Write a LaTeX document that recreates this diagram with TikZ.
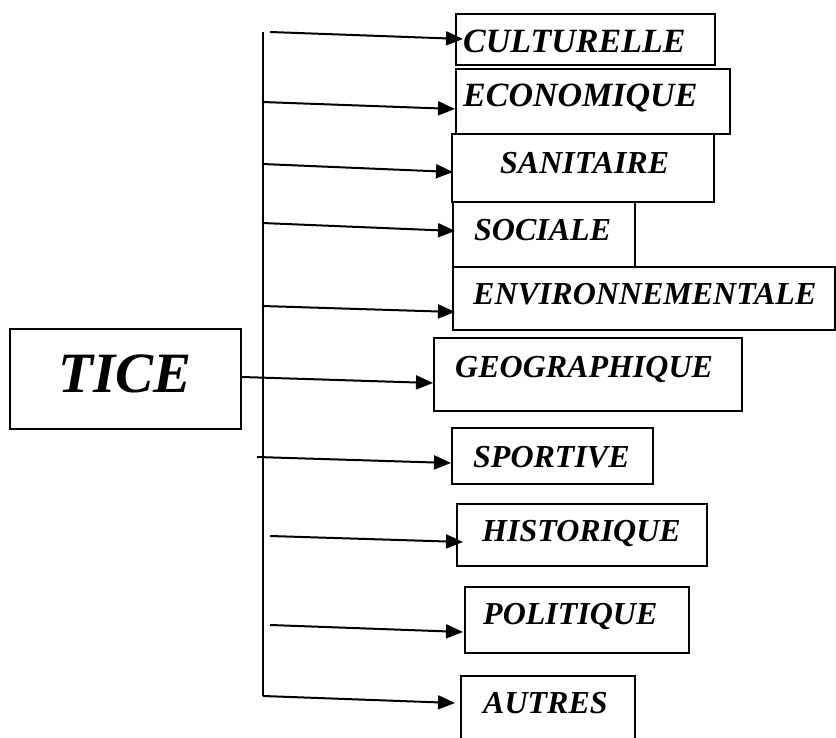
\documentclass[tikz,border=0pt]{standalone}
\usepackage{fontspec}
\setmainfont{Liberation Serif}
\usetikzlibrary{arrows.meta,calc}

\begin{document}
\begin{tikzpicture}[x=1pt,y=-1pt,
    boite/.style={draw=black,line width=1.9pt,anchor=north west,inner sep=0pt},
    etiq/.style={anchor=base west,inner sep=0pt,font=\fontsize{32}{36}\selectfont\bfseries\itshape},
    grand/.style={font=\fontsize{34}{38}\selectfont\bfseries\itshape},
    fleche/.style={draw=black,line width=2pt,-{Triangle[length=17pt,width=14pt]}}]
	\useasboundingbox (0,0) rectangle (836,738);
	\node [boite,minimum width=231pt,minimum height=100pt] (tice) at (9,328) {};
	\node [etiq,font=\fontsize{57}{60}\selectfont\bfseries\itshape] (ttice) at (58,392) {TICE};
	\node [boite,minimum width=259pt,minimum height=51pt] (cult) at (455,13) {};
	\node [etiq,grand] (tcult) at (463,52.5) {CULTURELLE};
	\node [boite,minimum width=274pt,minimum height=65pt] (eco) at (455,68) {};
	\node [etiq,grand] (teco) at (463,107) {ECONOMIQUE};
	\node [boite,minimum width=262pt,minimum height=68pt] (san) at (451,133) {};
	\node [etiq] (tsan) at (500,174) {SANITAIRE};
	\node [boite,minimum width=182pt,minimum height=65pt] (soc) at (452,201) {};
	\node [etiq] (tsoc) at (474,241) {SOCIALE};
	\node [boite,minimum width=382pt,minimum height=63pt] (env) at (452,266) {};
	\node [etiq] (tenv) at (473,305) {ENVIRONNEMENTALE};
	\node [boite,minimum width=308pt,minimum height=73pt] (geo) at (433,337) {};
	\node [etiq] (tgeo) at (455,377.5) {GEOGRAPHIQUE};
	\node [boite,minimum width=201pt,minimum height=56pt] (spo) at (451,427) {};
	\node [etiq] (tspo) at (473,467) {SPORTIVE};
	\node [boite,minimum width=250pt,minimum height=62pt] (his) at (456,503) {};
	\node [etiq] (this) at (482,541) {HISTORIQUE};
	\node [boite,minimum width=224pt,minimum height=66pt] (pol) at (464,586) {};
	\node [etiq] (tpol) at (483,624) {POLITIQUE};
	\node [boite,minimum width=174pt,minimum height=80pt] (aut) at (460,675) {};
	\node [etiq] (taut) at (483,713) {AUTRES};
	\coordinate (haut) at (263,32);
	\coordinate (bas) at (263,696);
	\coordinate (d1) at (270,32);
	\coordinate (d2) at (262,102);
	\coordinate (d3) at (262,164);
	\coordinate (d4) at (262,223);
	\coordinate (d5) at (262,306);
	\coordinate (d7) at (257,457);
	\coordinate (d8) at (270,536);
	\coordinate (d9) at (270,625);
	\draw [black,line width=2pt] (haut) -- (bas);
	\draw [fleche] (d1) -- ($(cult.north west)+(8,26)$);
	\draw [fleche] (d2) -- ($(eco.north west)+(0,41)$);
	\draw [fleche] (d3) -- ($(san.north west)+(2,39)$);
	\draw [fleche] (d4) -- ($(soc.north west)+(3,30)$);
	\draw [fleche] (d5) -- ($(env.north west)+(3,46)$);
	\draw [fleche] ($(tice.north east)+(0,49)$) -- ($(geo.north west)+(0,46)$);
	\draw [fleche] (d7) -- ($(spo.north west)+(0,36)$);
	\draw [fleche] (d8) -- ($(his.north west)+(7,39)$);
	\draw [fleche] (d9) -- ($(pol.north west)+(-1,46)$);
	\draw [fleche] (bas) -- ($(aut.north west)+(-5,28)$);
\end{tikzpicture}
\end{document}
